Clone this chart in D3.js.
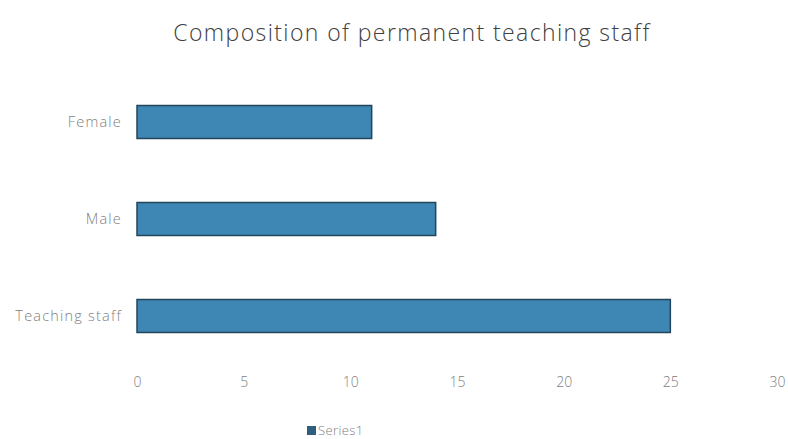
<!DOCTYPE html>
<html>
<head>
<meta charset="utf-8">
<script src="https://cdn.jsdelivr.net/npm/d3@7"></script>
<style>
  html, body { margin: 0; padding: 0; background: #fff; }
  svg { display: block; }
</style>
</head>
<body>
<svg id="chart" width="788" height="439"></svg>
<script>
// Chart data
const categories = ["Female", "Male", "Teaching staff"];
const values = [11, 14, 25];
const seriesName = "Series1";
const xTicks = [0, 5, 10, 15, 20, 25, 30];
const titleText = "Composition of permanent teaching staff";

const width = 788, height = 439;
const margin = { top: 73.5, right: 11, bottom: 74.5, left: 137 };
const font = "Open Sans, sans-serif";

const svg = d3.select("#chart");

const x = d3.scaleLinear()
  .domain([0, 30])
  .range([margin.left, width - margin.right]);

const y = d3.scaleBand()
  .domain(categories)
  .range([margin.top, height - margin.bottom])
  .paddingInner(0.66)
  .paddingOuter(0.33);

// Title
svg.append("text")
  .attr("x", 412)
  .attr("y", 41)
  .attr("text-anchor", "middle")
  .attr("font-family", font)
  .attr("font-size", 23)
  .attr("font-weight", 300)
  .attr("letter-spacing", 1.4)
  .attr("fill", "#404040")
  .text(titleText);

// Bars
svg.append("g")
  .selectAll("rect")
  .data(categories.map((c, i) => ({ c, v: values[i] })))
  .join("rect")
  .attr("x", x(0))
  .attr("y", d => y(d.c))
  .attr("width", d => x(d.v) - x(0))
  .attr("height", y.bandwidth())
  .attr("fill", "#3e86b3")
  .attr("stroke", "#22455c")
  .attr("stroke-width", 1.5);

// Category axis
const yAxis = svg.append("g")
  .attr("transform", `translate(${margin.left},0)`)
  .call(d3.axisLeft(y).tickSize(0).tickPadding(15));
yAxis.select(".domain").remove();
yAxis.selectAll("text")
  .attr("font-family", font)
  .attr("font-size", 14.5)
  .attr("font-weight", 300)
  .attr("letter-spacing", 1.2)
  .attr("fill", "#808080");

// Value axis
const xAxis = svg.append("g")
  .attr("transform", `translate(0,${height - margin.bottom})`)
  .call(d3.axisBottom(x).tickValues(xTicks).tickSize(0).tickPadding(13));
xAxis.select(".domain").remove();
xAxis.selectAll("text")
  .attr("font-family", font)
  .attr("font-size", 14)
  .attr("font-weight", 300)
  .attr("fill", "#808080");

// Legend
const legend = svg.append("g").attr("transform", "translate(307,426)");
legend.append("rect")
  .attr("x", 0).attr("y", 0)
  .attr("width", 9).attr("height", 9)
  .attr("fill", "#2f5f7c");
legend.append("text")
  .attr("x", 11).attr("y", 9)
  .attr("font-family", font)
  .attr("font-size", 13)
  .attr("font-weight", 300)
  .attr("letter-spacing", 0.4)
  .attr("fill", "#808080")
  .text(seriesName);
</script>
</body>
</html>
